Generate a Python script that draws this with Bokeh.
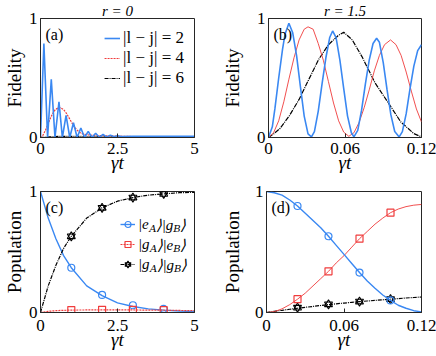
from bokeh.plotting import figure
from bokeh.models import Range1d, FixedTicker, Label, Legend, LegendItem
from bokeh.layouts import column, row
from bokeh.embed import file_html
from bokeh.resources import INLINE
from bokeh.core.properties import value

# ---------------- data ----------------
# panel (a): r = 0, fidelity vs gamma t
ta_blue = [0, 0.11, 0.23, 0.35, 0.47, 0.60, 0.71, 0.83, 0.95, 1.07, 1.19, 1.31, 1.43,
           1.55, 1.67, 1.79, 1.91, 2.03, 2.15, 2.27, 2.39, 2.50, 2.62, 3.0, 4.0, 5.0]
fa_blue = [0, 0.79, 0.0, 0.49, 0.0, 0.30, 0.0, 0.185, 0.0, 0.124, 0.0, 0.08, 0.0,
           0.052, 0.0, 0.036, 0.002, 0.027, 0.004, 0.02, 0.006, 0.015, 0.009, 0.01, 0.01, 0.01]
ta_red = [0, 0.05, 0.16, 0.27, 0.37, 0.48, 0.61, 0.75, 0.85, 0.96, 1.07, 1.17, 1.28,
          1.40, 1.60, 2.0, 2.5, 3.0, 4.0, 5.0]
fa_red = [0, 0.005, 0.06, 0.13, 0.19, 0.235, 0.254, 0.235, 0.20, 0.15, 0.10, 0.066, 0.041,
          0.028, 0.02, 0.015, 0.012, 0.008, 0.005, 0.004]
ta_black = [0, 0.3, 0.6, 1.0, 1.5, 2.5, 5.0]
fa_black = [0, 0.005, 0.01, 0.01, 0.008, 0.004, 0.002]

# panel (b): r = 1.5
tb_blue = [0, 0.003, 0.005, 0.008, 0.011, 0.013, 0.016, 0.019, 0.022, 0.025, 0.028, 0.031,
           0.0337, 0.036, 0.039, 0.042, 0.045, 0.048, 0.0503, 0.053, 0.056, 0.059, 0.062,
           0.065, 0.067, 0.070, 0.073, 0.076, 0.079, 0.082, 0.0848, 0.087, 0.090, 0.093,
           0.096, 0.099, 0.1025, 0.105, 0.108, 0.111, 0.114, 0.117, 0.12]
fb_blue = [0, 0.09, 0.24, 0.50, 0.74, 0.87, 0.96, 0.88, 0.69, 0.43, 0.18, 0.03,
           0.005, 0.05, 0.22, 0.45, 0.67, 0.84, 0.895, 0.84, 0.65, 0.41, 0.18,
           0.04, 0.005, 0.06, 0.23, 0.45, 0.65, 0.79, 0.834, 0.80, 0.63, 0.40,
           0.19, 0.05, 0.005, 0.05, 0.20, 0.41, 0.60, 0.73, 0.78]
tb_red = [0, 0.004, 0.008, 0.012, 0.016, 0.020, 0.024, 0.028, 0.031, 0.035, 0.039, 0.043,
          0.047, 0.051, 0.055, 0.059, 0.063, 0.067, 0.071, 0.075, 0.079, 0.083, 0.087,
          0.091, 0.0957, 0.100, 0.104, 0.108, 0.112, 0.116, 0.12]
fb_red = [0, 0.04, 0.14, 0.30, 0.49, 0.67, 0.82, 0.91, 0.93, 0.91, 0.79, 0.65,
          0.47, 0.29, 0.14, 0.045, 0.01, 0.04, 0.125, 0.25, 0.40, 0.56, 0.69,
          0.78, 0.82, 0.78, 0.69, 0.55, 0.39, 0.24, 0.13]
tb_black = [0, 0.004, 0.009, 0.0165, 0.024, 0.0317, 0.0393, 0.047, 0.0545, 0.059, 0.0657,
            0.0733, 0.0835, 0.0937, 0.1038, 0.114, 0.12]
fb_black = [0, 0.03, 0.075, 0.185, 0.32, 0.49, 0.655, 0.78, 0.855, 0.885, 0.82,
            0.68, 0.46, 0.295, 0.13, 0.033, 0.005]

# panel (c): r = 0, populations
tc = [0, 0.25, 0.5, 0.75, 1, 1.5, 2, 2.5, 3, 3.5, 4, 4.5, 5]
pc_blue = [1.0, 0.78, 0.61, 0.47, 0.37, 0.22, 0.14, 0.08, 0.05, 0.03, 0.02, 0.012, 0.008]
pc_red = [0, 0.01, 0.015, 0.018, 0.02, 0.021, 0.022, 0.022, 0.021, 0.02, 0.019, 0.017, 0.015]
pc_black = [0, 0.22, 0.39, 0.53, 0.63, 0.78, 0.865, 0.92, 0.95, 0.97, 0.98, 0.99, 0.993]
tc_mk = [1, 2, 3, 4]
pc_blue_mk = [0.37, 0.145, 0.06, 0.03]
pc_red_mk = [0.02, 0.022, 0.021, 0.019]
pc_black_mk = [0.63, 0.865, 0.95, 0.98]

# panel (d): r = 1.5, populations
td = [0, 0.006, 0.012, 0.018, 0.024, 0.030, 0.036, 0.042, 0.048, 0.054, 0.060,
      0.066, 0.072, 0.078, 0.084, 0.090, 0.096, 0.102, 0.108, 0.114, 0.12]
pd_blue = [1.0, 0.99, 0.97, 0.93, 0.88, 0.82, 0.76, 0.70, 0.63, 0.555, 0.48,
           0.405, 0.33, 0.26, 0.20, 0.145, 0.10, 0.06, 0.035, 0.015, 0.005]
pd_red = [0, 0.007, 0.03, 0.065, 0.11, 0.16, 0.22, 0.28, 0.34, 0.41, 0.47,
          0.54, 0.61, 0.67, 0.73, 0.78, 0.825, 0.855, 0.875, 0.887, 0.893]
pd_black = [0, 0.01, 0.018, 0.027, 0.035, 0.043, 0.05, 0.058, 0.065, 0.072, 0.078,
            0.084, 0.09, 0.095, 0.10, 0.105, 0.11, 0.115, 0.12, 0.124, 0.128]
td_mk = [0.024, 0.048, 0.072, 0.096]
pd_blue_mk = [0.88, 0.63, 0.33, 0.10]
pd_red_mk = [0.11, 0.34, 0.61, 0.825]
pd_black_mk = [0.04, 0.068, 0.09, 0.11]

# ticks and texts
xticks_left = [0, 2.5, 5]
xtick_labels_left = ["0", "2.5", "5"]
xticks_right = [0, 0.06, 0.12]
xtick_labels_right = ["0", "0.06", "0.12"]
yticks = [0, 1]
ytick_labels = ["0", "1"]
legend_a = ["|l − j| = 2", "|l − j| = 4", "|l − j| = 6"]
titles = ["r = 0", "r = 1.5"]
panel_tags = ["(a)", "(b)", "(c)", "(d)"]
# legend (c): first piece is the legend label, the rest follow it (text, px offset, subscript)
legend_c_first = ["|e", "|g", "|g"]
legend_c_rest = [
    [("A", 10.8, True), ("⟩|g", 17.2, False), ("B", 34.8, True), ("⟩", 41.2, False)],
    [("A", 11.6, True), ("⟩|e", 18.0, False), ("B", 34.8, True), ("⟩", 41.2, False)],
    [("A", 11.6, True), ("⟩|g", 18.0, False), ("B", 35.6, True), ("⟩", 42.0, False)],
]

# serif faces: one distinct quoted family string per kind of text
F_TICK = "\"Liberation Serif\""
F_AXL = "'Liberation Serif'"
F_LEG = "\"Times New Roman\""
F_LEGC = "\"Times\""
F_SUB = "'DejaVu Serif'"
F_TIT = "'Times New Roman'"
F_TAG = "'Times'"
BLUE = "#3a88f2"
RED = "#f03c3c"
BLACK = "#000000"
AX = "#262626"

LEG_X, LEG_Y, LEG_GW, LEG_H, LEG_SO = 80, 38, 15, 20, 3


def base_fig(w, h, xr, xt, xtl, borders, xlabel, ylabel, ystand, xstand, ttl=None):
    l, r, t, b = borders
    p = figure(width=w, height=h, x_range=Range1d(*xr), y_range=Range1d(0, 1),
               output_backend="svg", toolbar_location=None,
               min_border_left=l, min_border_right=r, min_border_top=t, min_border_bottom=b)
    p.grid.visible = False
    p.outline_line_color = AX
    p.outline_line_width = 1
    p.outline_line_alpha = 1
    p.xaxis.ticker = FixedTicker(ticks=xt)
    p.xaxis.major_label_overrides = dict(zip(xt, xtl))
    p.yaxis.ticker = FixedTicker(ticks=yticks)
    p.yaxis.major_label_overrides = dict(zip(yticks, ytick_labels))
    for ax in p.axis:
        ax.axis_line_color = AX
        ax.major_tick_line_color = AX
        ax.major_tick_in = 4
        ax.major_tick_out = 0
        ax.minor_tick_line_color = None
        ax.major_label_text_font = F_TICK
        ax.major_label_text_font_size = "17px"
        ax.major_label_text_color = "black"
        ax.axis_label_text_font = F_AXL
        ax.axis_label_text_font_size = "19px"
        ax.axis_label_text_color = "black"
    p.xaxis.major_label_standoff = xstand
    p.xaxis.axis_label_standoff = -5
    p.yaxis.major_label_standoff = 3
    p.yaxis.axis_label_standoff = ystand
    p.xaxis.axis_label = xlabel
    p.xaxis.axis_label_text_font_style = "italic"
    p.yaxis.axis_label = ylabel
    p.yaxis.axis_label_text_font_style = "normal"
    if ttl is not None:
        p.title.text = ttl
        p.title.align = "center"
        p.title.text_font = F_TIT
        p.title.text_font_size = "15px"
        p.title.text_font_style = "italic"
        p.title.text_color = "black"
        p.title.standoff = 0
        p.title.offset = 0
    return p


def tag(p, text):
    p.add_layout(Label(x=5, y=1, x_units="screen", y_offset=-7, text=text,
                       text_baseline="top", text_font=F_TAG, text_font_size="16px",
                       text_color="black"))


W_L, W_R = 218, 218
H_T, H_B = 178, 178

# ---------------- (a) ----------------
pa = base_fig(W_L, H_T, (0, 5), xticks_left, xtick_labels_left, (37, 24, 15, 41),
              "γt", "Fidelity", 1, 5, titles[0])
ra_k = pa.line(ta_black, fa_black, color=BLACK, line_width=1.2, line_dash="4 1 1 1")
ra_r = pa.line(ta_red, fa_red, color=RED, line_width=1.2, line_dash="2 1")
ra_b = pa.line(ta_blue, fa_blue, color=BLUE, line_width=1.6)
leg_a = Legend(items=[LegendItem(label=value(legend_a[0]), renderers=[ra_b]),
                      LegendItem(label=value(legend_a[1]), renderers=[ra_r]),
                      LegendItem(label=value(legend_a[2]), renderers=[ra_k])],
               location="top_right", margin=10, padding=0, spacing=0,
               glyph_width=16, glyph_height=20, label_height=20, label_standoff=3,
               border_line_color=None, background_fill_alpha=0,
               label_text_font=F_LEG, label_text_font_size="17px", label_text_color="black")
pa.add_layout(leg_a)
tag(pa, panel_tags[0])

# ---------------- (b) ----------------
pb = base_fig(W_R, H_T, (0, 0.12), xticks_right, xtick_labels_right, (45, 15, 15, 41),
              "γt", "Fidelity", 11, 5, titles[1])
tag(pb, panel_tags[1])
pb.line(tb_black, fb_black, color=BLACK, line_width=1.2, line_dash="5 1 1 1")
pb.line(tb_red, fb_red, color=RED, line_width=1.0, alpha=0.9)
pb.line(tb_blue, fb_blue, color=BLUE, line_width=1.6)

# ---------------- (c) ----------------
pc = base_fig(W_L, H_B, (0, 5), xticks_left, xtick_labels_left, (37, 24, 13, 44),
              "γt", "Population", 1, 7)
rc_bl = pc.line(tc, pc_blue, color=BLUE, line_width=1.4)
rc_bm = pc.scatter(tc_mk, pc_blue_mk, marker="circle", size=7, line_color=BLUE, fill_color=None, line_width=1.2)
rc_rl = pc.line(tc, pc_red, color=RED, line_width=1.2, line_dash="2 1")
rc_rm = pc.scatter(tc_mk, pc_red_mk, marker="square", size=7, line_color=RED, fill_color=None, line_width=1.2)
rc_kl = pc.line(tc, pc_black, color=BLACK, line_width=1.2, line_dash="4 1 1 1")
rc_km1 = pc.scatter(tc_mk, pc_black_mk, marker="triangle", size=8, line_color=BLACK, fill_color=None, line_width=1.1)
rc_km2 = pc.scatter(tc_mk, pc_black_mk, marker="inverted_triangle", size=8, line_color=BLACK, fill_color=None, line_width=1.1)
leg_c = Legend(items=[LegendItem(label=value(legend_c_first[0]), renderers=[rc_bl, rc_bm]),
                      LegendItem(label=value(legend_c_first[1]), renderers=[rc_rl, rc_rm]),
                      LegendItem(label=value(legend_c_first[2]), renderers=[rc_kl, rc_km1, rc_km2])],
               location=(LEG_X, LEG_Y), margin=0, padding=0, spacing=0,
               glyph_width=LEG_GW, glyph_height=LEG_H, label_height=LEG_H, label_standoff=LEG_SO,
               border_line_color=None, background_fill_alpha=0,
               label_text_font=F_LEGC, label_text_font_size="15px",
               label_text_font_style="italic", label_text_color="black")
pc.add_layout(leg_c)
x_text = LEG_X + LEG_GW + LEG_SO
for i, pieces in enumerate(legend_c_rest):
    yc = LEG_Y + LEG_H * (2 - i) + LEG_H / 2
    for txt, dx, sub in pieces:
        pc.add_layout(Label(x=x_text + dx, y=yc - (4 if sub else 0),
                            x_units="screen", y_units="screen",
                            text=txt, text_baseline="middle",
                            text_font=(F_SUB if sub else F_LEGC),
                            text_font_size=("10px" if sub else "15px"),
                            text_font_style="italic", text_color="black"))
tag(pc, panel_tags[2])

# ---------------- (d) ----------------
pdf = base_fig(W_R, H_B, (0, 0.12), xticks_right, xtick_labels_right, (45, 15, 13, 44),
               "γt", "Population", 9, 7)
pdf.line(td, pd_black, color=BLACK, line_width=1.2, line_dash="4 1 1 1")
pdf.scatter(td_mk, pd_black_mk, marker="triangle", size=8, line_color=BLACK, fill_color=None, line_width=1.1)
pdf.scatter(td_mk, pd_black_mk, marker="inverted_triangle", size=8, line_color=BLACK, fill_color=None, line_width=1.1)
pdf.line(td, pd_red, color=RED, line_width=1.0, alpha=0.9)
pdf.scatter(td_mk, pd_red_mk, marker="square", size=7, line_color=RED, fill_color=None, line_width=1.2)
pdf.line(td, pd_blue, color=BLUE, line_width=1.4)
pdf.scatter(td_mk, pd_blue_mk, marker="circle", size=7, line_color=BLUE, fill_color=None, line_width=1.2)
tag(pdf, panel_tags[3])

layout = column(row(pa, pb), row(pc, pdf))
open("out.html", "w").write(file_html(layout, INLINE))
